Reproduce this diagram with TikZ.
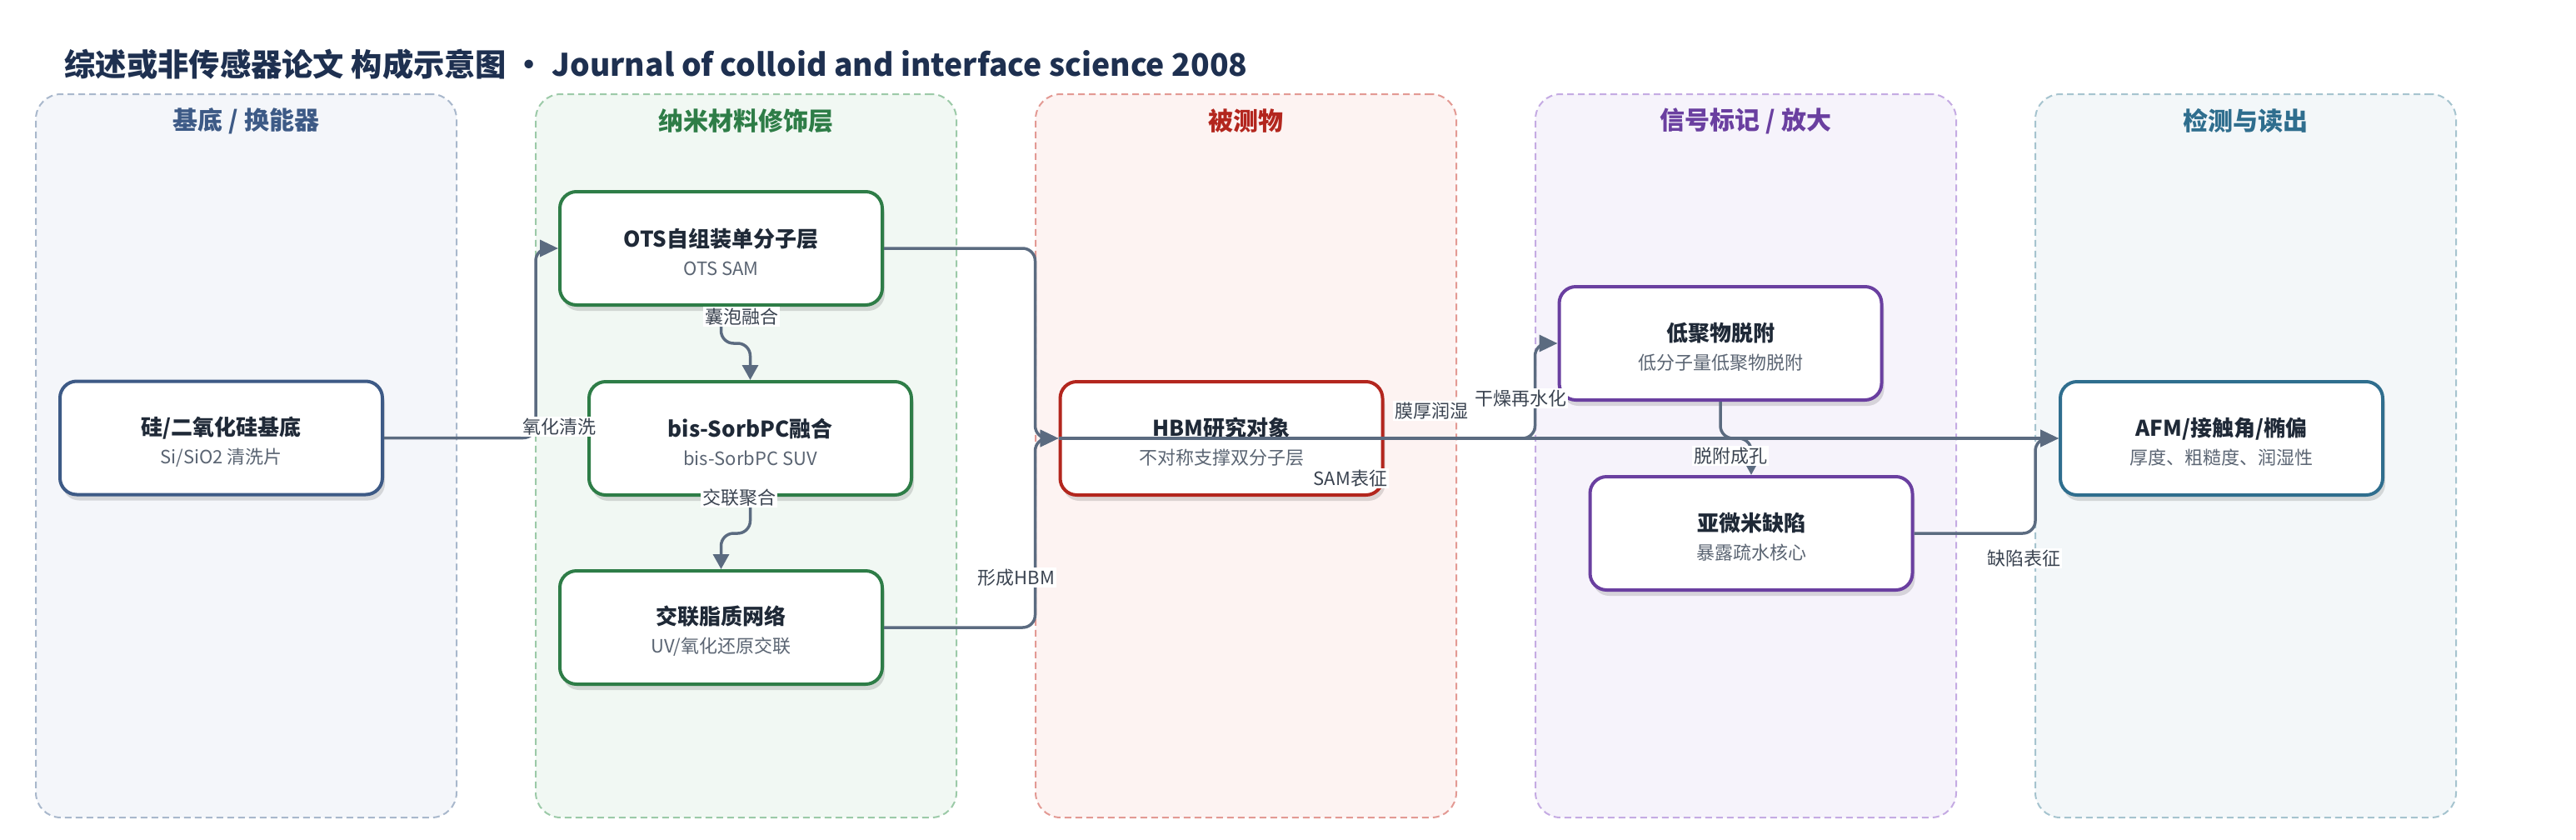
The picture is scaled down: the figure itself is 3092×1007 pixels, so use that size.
\documentclass[tikz,border=0pt]{standalone}
\usepackage{fontspec}
\setmainfont{Noto Sans CJK SC}
\usetikzlibrary{arrows.meta,shadows,calc}
\definecolor{ttl}{HTML}{1E3050}
\definecolor{txt}{HTML}{1F2937}
\definecolor{subc}{HTML}{5B6573}
\definecolor{lblc}{HTML}{3A4350}
\definecolor{edgec}{HTML}{5B6B80}
\definecolor{cA}{HTML}{3D5A86}
\definecolor{cAb}{HTML}{A9B8CC}
\definecolor{cAf}{HTML}{F4F6FA}
\definecolor{cB}{HTML}{2E7D47}
\definecolor{cBb}{HTML}{9CCAA8}
\definecolor{cBf}{HTML}{F1F8F3}
\definecolor{cC}{HTML}{B3261E}
\definecolor{cCb}{HTML}{E39A94}
\definecolor{cCf}{HTML}{FDF3F2}
\definecolor{cD}{HTML}{6A3FA0}
\definecolor{cDb}{HTML}{C5ABE3}
\definecolor{cDf}{HTML}{F6F3FB}
\definecolor{cE}{HTML}{2F6E8E}
\definecolor{cEb}{HTML}{A6C4CF}
\definecolor{cEf}{HTML}{F3F7F9}
\newcommand\ttlfnt{\fontsize{26}{34}\selectfont\bfseries\color{txt}\rule{0pt}{31pt}}
\newcommand\subfnt{\fontsize{22}{34}\selectfont\color{subc}}
\begin{document}
\begin{tikzpicture}[x=1pt,y=-1pt,
  lane/.style 2 args={draw=#1, fill=#2, dash pattern=on 8pt off 5pt, line width=2pt,
    rounded corners=30pt, minimum width=505pt, minimum height=868pt, inner sep=0pt},
  lanettl/.style={font=\fontsize{30}{36}\selectfont\bfseries, text=#1},
  box/.style={draw=#1, fill=white, line width=4pt, rounded corners=20pt,
    minimum width=387pt, minimum height=136pt, align=center, inner sep=0pt,
    font=\fontsize{22}{34}\selectfont,
    drop shadow={shadow xshift=3pt, shadow yshift=-7pt, opacity=0.13, fill=black}},
  edge/.style={draw=edgec, line width=3.5pt, rounded corners=15pt,
    -{Triangle[length=22pt,width=20pt]}},
  lbl/.style={fill=white, inner sep=2pt, font=\fontsize{22}{26}\selectfont, text=lblc}
]
\useasboundingbox (0,0) rectangle (3092,1007);
\fill[white] (0,0) rectangle (3092,1007);

\node[anchor=west, font=\fontsize{37.3}{44}\selectfont\bfseries, text=ttl] (title) at (74,77)
  {综述或非传感器论文 构成示意图 · Journal of colloid and interface science 2008};

% lanes
\node[lane={cAb}{cAf}] (L1) at (295.5,547) {};
\node[lane={cBb}{cBf}] (L2) at (895.5,547) {};
\node[lane={cCb}{cCf}] (L3) at (1495.5,547) {};
\node[lane={cDb}{cDf}] (L4) at (2095.5,547) {};
\node[lane={cEb}{cEf}] (L5) at (2695.5,547) {};
\node[lanettl=cA] (L1t) at (295.5,145) {基底 / 换能器};
\node[lanettl=cB] (L2t) at (895.5,145) {纳米材料修饰层};
\node[lanettl=cC] (L3t) at (1495.5,145) {被测物};
\node[lanettl=cD] (L4t) at (2095.5,145) {信号标记 / 放大};
\node[lanettl=cE] (L5t) at (2695.5,145) {检测与读出};

% nodes
\node[box=cA] (n1) at (265.5,525.5) {\ttlfnt 硅/二氧化硅基底\\ \subfnt Si/SiO2 清洗片};
\node[box=cB] (n2) at (865.5,298) {\ttlfnt OTS自组装单分子层\\ \subfnt OTS SAM};
\node[box=cB] (n3) at (900.5,526) {\ttlfnt bis-SorbPC融合\\ \subfnt bis-SorbPC SUV};
\node[box=cB] (n4) at (865.5,753) {\ttlfnt 交联脂质网络\\ \subfnt UV/氧化还原交联};
\node[box=cC] (n5) at (1466,526) {\ttlfnt HBM研究对象\\ \subfnt 不对称支撑双分子层};
\node[box=cD] (n6) at (2065,412) {\ttlfnt 低聚物脱附\\ \subfnt 低分子量低聚物脱附};
\node[box=cD] (n7) at (2102,640) {\ttlfnt 亚微米缺陷\\ \subfnt 暴露疏水核心};
\node[box=cE] (n8) at (2666.5,526) {\ttlfnt AFM/接触角/椭偏\\ \subfnt 厚度、粗糙度、润湿性};

% connectors
\draw[edge] (n1.east) -| ($(n2.west)+(-27,0)$) -- (n2.west);
\draw[edge, -{Triangle[length=18pt,width=19pt]}] (n2.south) -- ++(0,44) -| (n3.north);
\draw[edge, -{Triangle[length=18pt,width=19pt]}] (n3.south) -- ++(0,44) -| (n4.north);
\draw[edge] (n2.east) -| ($(n5.west)+(-28,0)$) -- (n5.west);
\draw[edge] (n4.east) -| ($(n5.west)+(-28,0)$) -- (n5.west);
\draw[edge] (n5.west) -- (n8.west);
\draw[edge] (n5.east) -| ($(n6.west)+(-27,0)$) -- (n6.west);
\draw[edge, -{Triangle[length=12pt,width=12pt]}] (n6.south) -- ++(0,44) -| (n7.north);
\draw[edge] (n7.east) -| ($(n8.west)+(-28,0)$) -- (n8.west);

% labels
\node[lbl] (e1) at (671,512) {氧化清洗};
\node[lbl] (e2) at (890,380) {囊泡融合};
\node[lbl] (e3) at (887,597) {交联聚合};
\node[lbl] (e4) at (1220,693) {形成HBM};
\node[lbl] (e5) at (1718,493) {膜厚润湿};
\node[lbl] (e6) at (1621,574) {SAM表征};
\node[lbl] (e7) at (1825,478) {干燥再水化};
\node[lbl] (e8) at (2077,547) {脱附成孔};
\node[lbl] (e9) at (2429,670) {缺陷表征};
\end{tikzpicture}
\end{document}
